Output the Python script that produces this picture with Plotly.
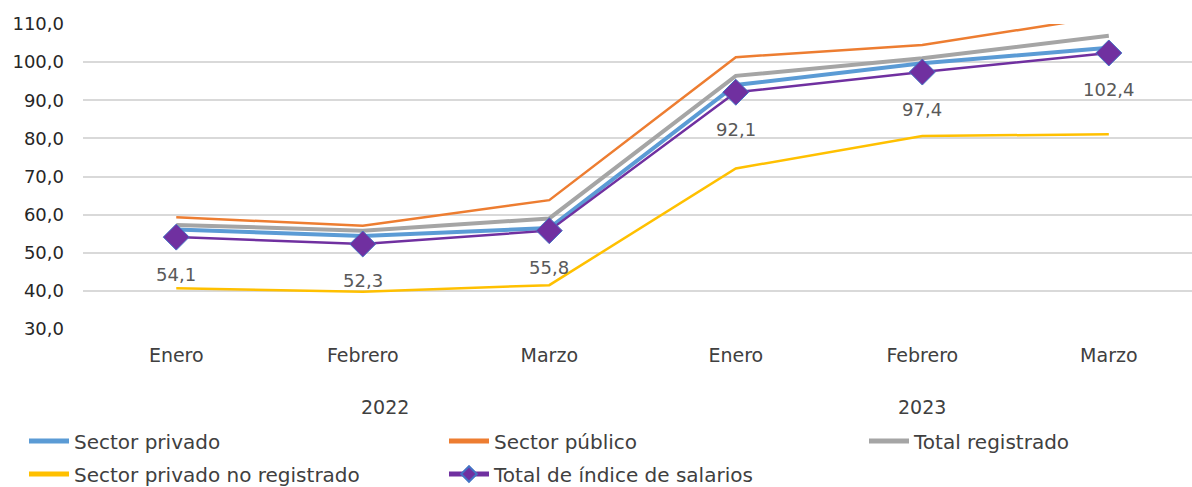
import plotly.graph_objects as go

# Salary index by sector, Jan-Mar 2022 and 2023
months = ['Enero', 'Febrero', 'Marzo', 'Enero', 'Febrero', 'Marzo']
years = ['2022', '2023']

sector_privado = [56.1, 54.4, 56.5, 94.0, 99.7, 103.8]
sector_publico = [59.3, 57.1, 63.8, 101.3, 104.5, 112.1]
total_registrado = [57.3, 55.8, 59.0, 96.4, 101.0, 106.9]
privado_no_registrado = [40.7, 39.8, 41.5, 72.1, 80.6, 81.1]
total_indice = [54.1, 52.3, 55.8, 92.1, 97.4, 102.4]

FONT = 'DejaVu Sans'
x = list(range(len(months)))

fig = go.Figure()

series = [
    ('Sector privado', sector_privado, '#5B9BD5', 4, 'legend'),
    ('Sector público', sector_publico, '#ED7D31', 2.5, 'legend2'),
    ('Total registrado', total_registrado, '#A5A5A5', 4, 'legend3'),
    ('Sector privado no registrado', privado_no_registrado, '#FFC000', 2.5, 'legend4'),
]
for name, vals, color, width, leg in series:
    fig.add_trace(go.Scatter(
        x=x, y=vals, name=name, mode='lines',
        line=dict(color=color, width=width),
        legend=leg, showlegend=True,
    ))

fig.add_trace(go.Scatter(
    x=x, y=total_indice, name='Total de índice de salarios',
    mode='lines+markers',
    line=dict(color='#7030A0', width=2.5),
    marker=dict(symbol='diamond', size=20, color='#7030A0',
                line=dict(color='#4472C4', width=1)),
    legend='legend5', showlegend=True,
))

# data labels below the purple markers
for xi, v in zip(x, total_indice):
    fig.add_annotation(
        x=xi, y=v, text=f'{v:.1f}'.replace('.', ','),
        showarrow=False, yshift=-37,
        font=dict(family=FONT, size=18, color='#595959'),
    )

# year labels under the month ticks
for xi, yr in zip([1.12, 4.0], years):
    fig.add_annotation(
        x=xi, xref='x', y=-0.255, yref='paper', text=yr,
        showarrow=False, yanchor='middle',
        font=dict(family=FONT, size=19, color='#404040'),
    )


def legend_at(px_x, px_y):
    return dict(
        orientation='h', xref='container', yref='container',
        x=px_x / 1192, y=1 - px_y / 487,
        xanchor='left', yanchor='middle',
        font=dict(family=FONT, size=20, color='#404040'),
        itemwidth=40, itemsizing='constant', bgcolor='rgba(0,0,0,0)',
    )


fig.update_layout(
    width=1192, height=487,
    margin=dict(l=83, r=0, t=24, b=158),
    plot_bgcolor='white', paper_bgcolor='white',
    separators=',.',
    showlegend=True,
    font=dict(family=FONT, size=19, color='#404040'),
    xaxis=dict(
        tickvals=x, ticktext=months, range=[-0.5, 5.446],
        showgrid=False, zeroline=False, showline=False,
        ticklabelstandoff=13,
        tickfont=dict(family=FONT, size=19, color='#404040'),
    ),
    yaxis=dict(
        range=[30, 110], dtick=10, tickformat='.1f',
        gridcolor='#D9D9D9', gridwidth=1.5, zeroline=False,
        ticklabelstandoff=18,
        tickfont=dict(family=FONT, size=18, color='#262626'),
    ),
    legend=legend_at(24, 441),
    legend2=legend_at(444, 441),
    legend3=legend_at(864, 441),
    legend4=legend_at(24, 474),
    legend5=legend_at(444, 474),
)

fig.write_html('out.html', config={'displayModeBar': False},
               post_script="document.body.style.margin='0';")
